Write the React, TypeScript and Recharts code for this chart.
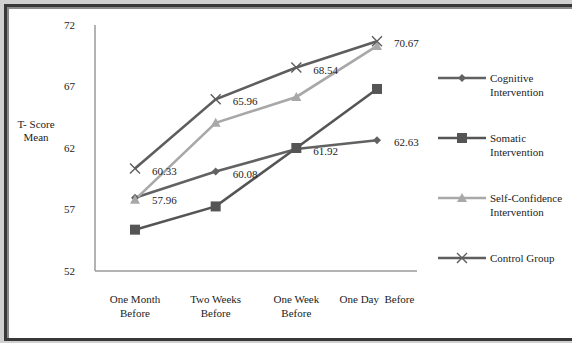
import React from 'react';
import { LineChart, Line, XAxis, YAxis, LabelList } from 'recharts';

const categories = ['One Month Before', 'Two Weeks Before', 'One Week Before', 'One Day Before'];
const tickLines = [['One Month', 'Before'], ['Two Weeks', 'Before'], ['One Week', 'Before'], ['One Day  Before']];
const cognitive = [57.96, 60.08, 61.92, 62.63];
const somatic = [55.36, 57.25, 62.0, 66.8];
const selfConfidence = [57.8, 64.05, 66.15, 70.3];
const control = [60.33, 65.96, 68.54, 70.67];
const yTicks = [52, 57, 62, 67, 72];

const FONT = 'Liberation Serif, DejaVu Serif, serif';
const TEXT = '#1c1c1c';
const txt = { fontFamily: FONT, fontSize: 11, whiteSpace: 'pre' as const };

type Shape = 'diamond' | 'square' | 'triangle' | 'cross';

const series: { key: string; name: string[]; color: string; shape: Shape; labels: boolean }[] = [
  { key: 'cognitive', name: ['Cognitive', 'Intervention'], color: '#626262', shape: 'diamond', labels: true },
  { key: 'somatic', name: ['Somatic', 'Intervention'], color: '#555555', shape: 'square', labels: false },
  { key: 'selfConfidence', name: ['Self-Confidence', 'Intervention'], color: '#a8a8a8', shape: 'triangle', labels: false },
  { key: 'control', name: ['Control Group'], color: '#5e5e5e', shape: 'cross', labels: true },
];

const data = categories.map((c, i) => ({
  category: c,
  cognitive: cognitive[i],
  somatic: somatic[i],
  selfConfidence: selfConfidence[i],
  control: control[i],
}));

function marker(shape: Shape, cx: number, cy: number, color: string, key?: string) {
  switch (shape) {
    case 'diamond':
      return <path key={key} d={`M${cx},${cy - 4}L${cx + 4},${cy}L${cx},${cy + 4}L${cx - 4},${cy}Z`} fill={color} />;
    case 'square':
      return <rect key={key} x={cx - 5} y={cy - 5} width={10} height={10} fill={color} />;
    case 'triangle':
      return <path key={key} d={`M${cx},${cy - 5}L${cx + 5},${cy + 4}L${cx - 5},${cy + 4}Z`} fill={color} />;
    default:
      return (
        <path key={key} d={`M${cx - 5},${cy - 5}L${cx + 5},${cy + 5}M${cx + 5},${cy - 5}L${cx - 5},${cy + 5}`}
          stroke={color} strokeWidth={1.4} fill="none" />
      );
  }
}

const XTick = (props: any) => {
  const { x, y, index } = props;
  const lines = tickLines[index] ?? [];
  return (
    <g>
      {lines.map((t, i) => (
        <text key={i} x={x} y={y + 30 + i * 14} textAnchor="middle" fill={TEXT} style={txt}>
          {t}
        </text>
      ))}
    </g>
  );
};

const ValueLabel = (props: any) => {
  const { x, y, value } = props;
  return (
    <text x={x + 17} y={y + 6} textAnchor="start" fill={TEXT} style={txt}>
      {Number(value).toFixed(2)}
    </text>
  );
};

const ChartLegend = () => (
  <svg width={142} height={230} style={{ position: 'absolute', left: 430, top: 58 }}>
    {series.map((s, i) => {
      const y = 20 + i * 60;
      return (
        <g key={s.key}>
          <line x1={8} x2={56} y1={y} y2={y} stroke={s.color} strokeWidth={2.5} />
          {marker(s.shape, 32, y, s.color)}
          {s.name.map((t, j) => (
            <text key={j} x={60} y={y + 4 + j * 14} fill={TEXT} style={txt}>
              {t}
            </text>
          ))}
        </g>
      );
    })}
  </svg>
);

export default function App() {
  return (
    <div style={{ position: 'absolute', left: 0, top: 0, width: 572, height: 343, background: '#d0d0d0', overflow: 'hidden' }}>
      <div
        style={{
          position: 'absolute', left: 4, top: 4, width: 640, height: 337, boxSizing: 'border-box',
          background: '#fff', border: '3px solid #383838', boxShadow: 'inset 2px 2px 0 #8a8a8a',
        }}
      />
      <div style={{ position: 'absolute', left: 0, top: 0 }}>
        <LineChart width={572} height={343} data={data} margin={{ top: 25, right: 155, bottom: 0, left: 0 }}>
          <XAxis dataKey="category" height={72} stroke="#9a9a9a" strokeWidth={1.5} tickLine={false}
            tickSize={0} tick={<XTick />} interval={0} padding={{ left: 40, right: 40 }} />
          <YAxis domain={[52, 72]} ticks={yTicks} width={95} stroke="#9a9a9a" strokeWidth={1.5} tickLine={false}
            tickSize={0} tickMargin={20}
            tick={{ fontFamily: FONT, fontSize: 11, fill: TEXT }}
            label={() => (
              <g>
                <text x={36} y={128} textAnchor="middle" fill={TEXT} style={txt}>T- Score</text>
                <text x={36} y={141} textAnchor="middle" fill={TEXT} style={txt}>Mean</text>
              </g>
            )}
          />
          {series.map((s) => (
            <Line key={s.key} dataKey={s.key} stroke={s.color} strokeWidth={2.6} isAnimationActive={false}
              dot={(p: any) => marker(s.shape, p.cx, p.cy, s.color, `${s.key}-${p.index}`)}
              activeDot={false}>
              {s.labels && <LabelList dataKey={s.key} content={<ValueLabel />} />}
            </Line>
          ))}
        </LineChart>
      </div>
      <ChartLegend />
    </div>
  );
}
